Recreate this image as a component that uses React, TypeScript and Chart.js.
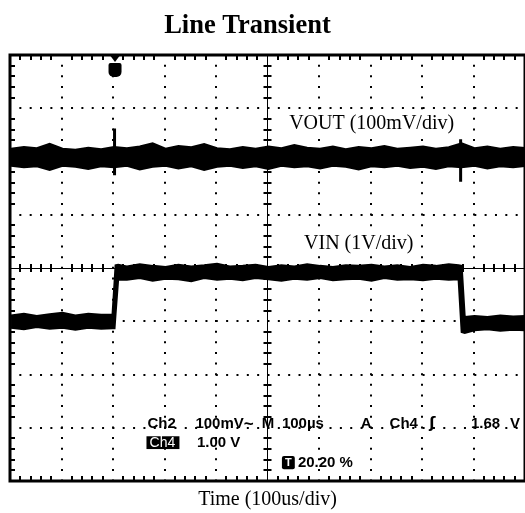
import { useEffect, useRef } from "react";
import { Chart, registerables } from "chart.js";

Chart.register(...registerables);

const TITLE = "Line Transient";
const X_TITLE = "Time (100us/div)";
const VOUT_LABEL = "VOUT (100mV/div)";
const VIN_LABEL = "VIN (1V/div)";

// x in microseconds (100 us/div), trigger at 20.20 % of the record
const xMin = -202;
const xMax = 798;
const xDivisions = [-202, -102, -2, 98, 198, 298, 398, 498, 598, 698, 798];
// y in screen divisions (8 divisions, centre = 0)
const yDivisions = [-4, -3, -2, -1, 0, 1, 2, 3, 4];

// VOUT trace (Ch2, 100 mV/div) – upper / lower edge of the noisy band, in divisions
const voutTime = [-200, -175, -150, -125, -100, -75, -50, -25, 0, 25, 50, 75, 100, 125, 150, 175, 200, 225, 250, 275, 300, 325, 350, 375, 400, 425, 450, 475, 500, 525, 550, 575, 600, 625, 650, 675, 700, 725, 750, 775, 800];
const voutUpper = [2.24, 2.27, 2.25, 2.33, 2.24, 2.22, 2.26, 2.23, 2.27, 2.25, 2.28, 2.34, 2.24, 2.29, 2.27, 2.33, 2.25, 2.23, 2.27, 2.24, 2.28, 2.25, 2.31, 2.26, 2.24, 2.28, 2.23, 2.27, 2.25, 2.29, 2.24, 2.26, 2.28, 2.24, 2.27, 2.34, 2.25, 2.28, 2.24, 2.27, 2.25];
const voutLower = [1.92, 1.89, 1.91, 1.84, 1.92, 1.9, 1.86, 1.91, 1.89, 1.92, 1.85, 1.9, 1.92, 1.87, 1.91, 1.84, 1.9, 1.92, 1.88, 1.91, 1.86, 1.92, 1.89, 1.91, 1.87, 1.92, 1.9, 1.85, 1.91, 1.89, 1.92, 1.88, 1.9, 1.86, 1.91, 1.89, 1.92, 1.87, 1.91, 1.89, 1.92];
const spikeTime = [1, 673];
const spikeHigh = [2.62, 2.42];
const spikeLow = [1.74, 1.62];

// VIN trace (Ch4, 1 V/div)
const vinTime = [-200, -175, -150, -125, -100, -75, -50, -25, -3, 1, 3, 8, 25, 50, 75, 100, 125, 150, 175, 200, 225, 250, 275, 300, 325, 350, 375, 400, 425, 450, 475, 500, 525, 550, 575, 600, 625, 650, 669, 675, 681, 700, 725, 750, 775, 800];
const vinUpper = [-0.89, -0.86, -0.9, -0.87, -0.84, -0.89, -0.86, -0.88, -0.88, -0.27, 0.05, 0.06, 0.03, 0.07, 0.04, 0.02, 0.06, 0.03, 0.05, 0.08, 0.03, 0.04, 0.06, 0.02, 0.05, 0.03, 0.07, 0.04, 0.02, 0.05, 0.04, 0.06, 0.03, 0.05, 0.02, 0.06, 0.04, 0.07, 0.05, 0.04, -0.92, -0.9, -0.92, -0.89, -0.91, -0.9];
const vinLower = [-1.12, -1.15, -1.11, -1.14, -1.12, -1.16, -1.12, -1.14, -1.13, -1.13, -0.86, -0.22, -0.22, -0.19, -0.24, -0.2, -0.21, -0.25, -0.19, -0.22, -0.2, -0.23, -0.19, -0.21, -0.24, -0.2, -0.22, -0.19, -0.23, -0.21, -0.2, -0.24, -0.19, -0.22, -0.21, -0.23, -0.2, -0.22, -0.21, -1.2, -1.22, -1.17, -1.15, -1.18, -1.16, -1.17];

// scope read-out texts
const readoutRow1 = ["Ch2", "100mV", "~", "M", "100\u00B5s", "A", "Ch4", "\u0283", "1.68", "V"];
const readoutRow2 = ["Ch4", "1.00 V"];
const readoutRow3 = ["T", "20.20 %"];

const xCenter = xDivisions[5];
const yCenter = yDivisions[4];

const scopePlugin = {
  id: "scopeOverlay",
  afterDatasetsDraw(chart: any) {
    const { ctx, chartArea: a, scales } = chart;
    const xs = scales.x;
    const ys = scales.y;
    const X = (v: number) => xs.getPixelForValue(v);
    const Y = (v: number) => ys.getPixelForValue(v);
    ctx.save();
    ctx.fillStyle = "#000";
    ctx.strokeStyle = "#000";

    // minor ticks
    const xMinor: number[] = [];
    for (let i = 0; i < xDivisions.length - 1; i++)
      for (let k = 1; k < 5; k++) xMinor.push(xDivisions[i] + ((xDivisions[i + 1] - xDivisions[i]) * k) / 5);
    const yMinor: number[] = [];
    for (let i = 0; i < yDivisions.length - 1; i++)
      for (let k = 1; k < 5; k++) yMinor.push(yDivisions[i] + ((yDivisions[i + 1] - yDivisions[i]) * k) / 5);
    const cx = X(xCenter);
    const cy = Y(yCenter);
    ctx.lineWidth = 2;
    ctx.beginPath();
    xMinor.forEach((v) => {
      const p = Math.round(X(v));
      ctx.moveTo(p, a.top);
      ctx.lineTo(p, a.top + 5);
      ctx.moveTo(p, a.bottom);
      ctx.lineTo(p, a.bottom - 5);
      ctx.moveTo(p, cy - 4);
      ctx.lineTo(p, cy + 4);
    });
    yMinor.forEach((v) => {
      const p = Math.round(Y(v));
      ctx.moveTo(a.left, p);
      ctx.lineTo(a.left + 5, p);
      ctx.moveTo(cx - 4, p);
      ctx.lineTo(cx + 4, p);
    });
    ctx.stroke();

    // frame
    ctx.lineWidth = 3;
    ctx.strokeRect(a.left, a.top, a.right - a.left, a.bottom - a.top);

    // trigger position marker
    const tx = X(0) + 1;
    ctx.beginPath();
    ctx.moveTo(tx - 6, a.top - 1);
    ctx.lineTo(tx + 6, a.top - 1);
    ctx.lineTo(tx, a.top + 7);
    ctx.closePath();
    ctx.fill();
    ctx.beginPath();
    (ctx as any).roundRect(tx - 6.5, a.top + 8, 13, 14, [2, 2, 5, 5]);
    ctx.fill();

    // trace labels (on white patches, like the pasted captions)
    ctx.textAlign = "left";
    ctx.textBaseline = "alphabetic";
    ctx.font = '20px "Liberation Serif"';
    const label = (t: string, x: number, y: number) => {
      const w = ctx.measureText(t).width;
      ctx.fillStyle = "#fff";
      ctx.fillRect(x - 2, y - 16, w + 4, 21);
      ctx.fillStyle = "#000";
      ctx.fillText(t, x, y);
    };
    label(VOUT_LABEL, X(340), Y(2.61));
    label(VIN_LABEL, X(369), Y(0.36));

    // read-out
    ctx.textBaseline = "middle";
    const r1x = [65, 158, 252, 287, 326, 479, 535, 612, 693, 769];
    const r1y = Y(-2.93);
    readoutRow1.forEach((t, i) => {
      ctx.font = t === "\u0283" ? 'bold 15px "DejaVu Sans"' : t === "~" ? 'bold 17px "Liberation Sans"' : 'bold 15px "Liberation Sans"';
      ctx.fillText(t, X(r1x[i]), r1y);
    });

    const r2y = Y(-3.28);
    ctx.fillRect(X(63), Y(-3.16), X(127) - X(63), Y(-3.4) - Y(-3.16));
    ctx.fillStyle = "#fff";
    ctx.font = '14px "Liberation Sans"';
    ctx.fillText(readoutRow2[0], X(69), r2y);
    ctx.fillStyle = "#000";
    ctx.font = 'bold 15px "Liberation Sans"';
    ctx.fillText(readoutRow2[1], X(161), r2y);

    const r3y = Y(-3.65);
    ctx.beginPath();
    (ctx as any).roundRect(X(326), Y(-3.53), X(351) - X(326), Y(-3.78) - Y(-3.53), 2);
    ctx.fill();
    ctx.fillStyle = "#fff";
    ctx.font = 'bold 11px "Liberation Sans"';
    ctx.textAlign = "center";
    ctx.fillText(readoutRow3[0], (X(326) + X(351)) / 2, r3y + 0.5);
    ctx.fillStyle = "#000";
    ctx.textAlign = "left";
    ctx.font = 'bold 15px "Liberation Sans"';
    ctx.fillText(readoutRow3[1], X(357), r3y);

    // chart title
    ctx.textAlign = "center";
    ctx.textBaseline = "alphabetic";
    ctx.font = 'bold 26.5px "Liberation Serif"';
    ctx.fillText(TITLE, (a.left + a.right) / 2 - 20, a.top - 22);
    ctx.restore();
  },
};

export default function App() {
  const ref = useRef<HTMLCanvasElement | null>(null);
  useEffect(() => {
    if (!ref.current) return;
    const pts = (t: number[], v: number[]) => t.map((x, i) => ({ x, y: v[i] }));
    const base = { pointRadius: 0, borderColor: "#000", backgroundColor: "#000", tension: 0 };
    const spikeSets = spikeTime.map((t, i) => ({
      ...base,
      data: [
        { x: t, y: spikeHigh[i] },
        { x: t, y: spikeLow[i] },
      ],
      borderWidth: 3,
      fill: false,
    }));
    const chart = new Chart(ref.current, {
      type: "line",
      data: {
        datasets: [
          { ...base, data: pts(voutTime, voutUpper), borderWidth: 2, fill: false },
          { ...base, data: pts(voutTime, voutLower), borderWidth: 2, fill: "-1" },
          { ...base, data: pts(vinTime, vinUpper), borderWidth: 2, fill: false },
          { ...base, data: pts(vinTime, vinLower), borderWidth: 2, fill: "-1" },
          ...spikeSets,
        ] as any,
      },
      options: {
        animation: false,
        responsive: true,
        maintainAspectRatio: false,
        devicePixelRatio: 1,
        layout: { padding: { left: 10, right: -2, top: 55, bottom: 1 } },
        plugins: { legend: { display: false }, tooltip: { enabled: false }, title: { display: false } },
        scales: {
          x: {
            type: "linear",
            min: xMin,
            max: xMax,
            afterBuildTicks: (s: any) => {
              s.ticks = xDivisions.map((v) => ({ value: v }));
            },
            ticks: { display: false },
            grid: {
              color: "#000",
              drawTicks: false,
              lineWidth: (c: any) => (c.tick && c.tick.value === xCenter ? 1 : 2),
            },
            border: {
              display: false,
              dash: (c: any) => (c.tick && c.tick.value === xCenter ? [] : [2, 8.64]),
              dashOffset: 1,
            },
            title: {
              display: true,
              text: X_TITLE,
              color: "#000",
              font: { family: "Liberation Serif", size: 20 },
              padding: { top: 7, bottom: 0 },
            },
          },
          y: {
            type: "linear",
            min: yDivisions[0],
            max: yDivisions[yDivisions.length - 1],
            afterBuildTicks: (s: any) => {
              s.ticks = yDivisions.map((v) => ({ value: v }));
            },
            ticks: { display: false },
            grid: {
              color: "#000",
              drawTicks: false,
              lineWidth: (c: any) => (c.tick && c.tick.value === yCenter ? 1 : 2),
            },
            border: {
              display: false,
              dash: (c: any) => (c.tick && c.tick.value === yCenter ? [] : [2, 8.34]),
              dashOffset: 1,
            },
          },
        },
      },
      plugins: [scopePlugin],
    });
    return () => chart.destroy();
  }, []);
  return (
    <div style={{ position: "absolute", left: 0, top: 0, width: 525, height: 513, background: "#fff" }}>
      <canvas ref={ref} />
    </div>
  );
}
